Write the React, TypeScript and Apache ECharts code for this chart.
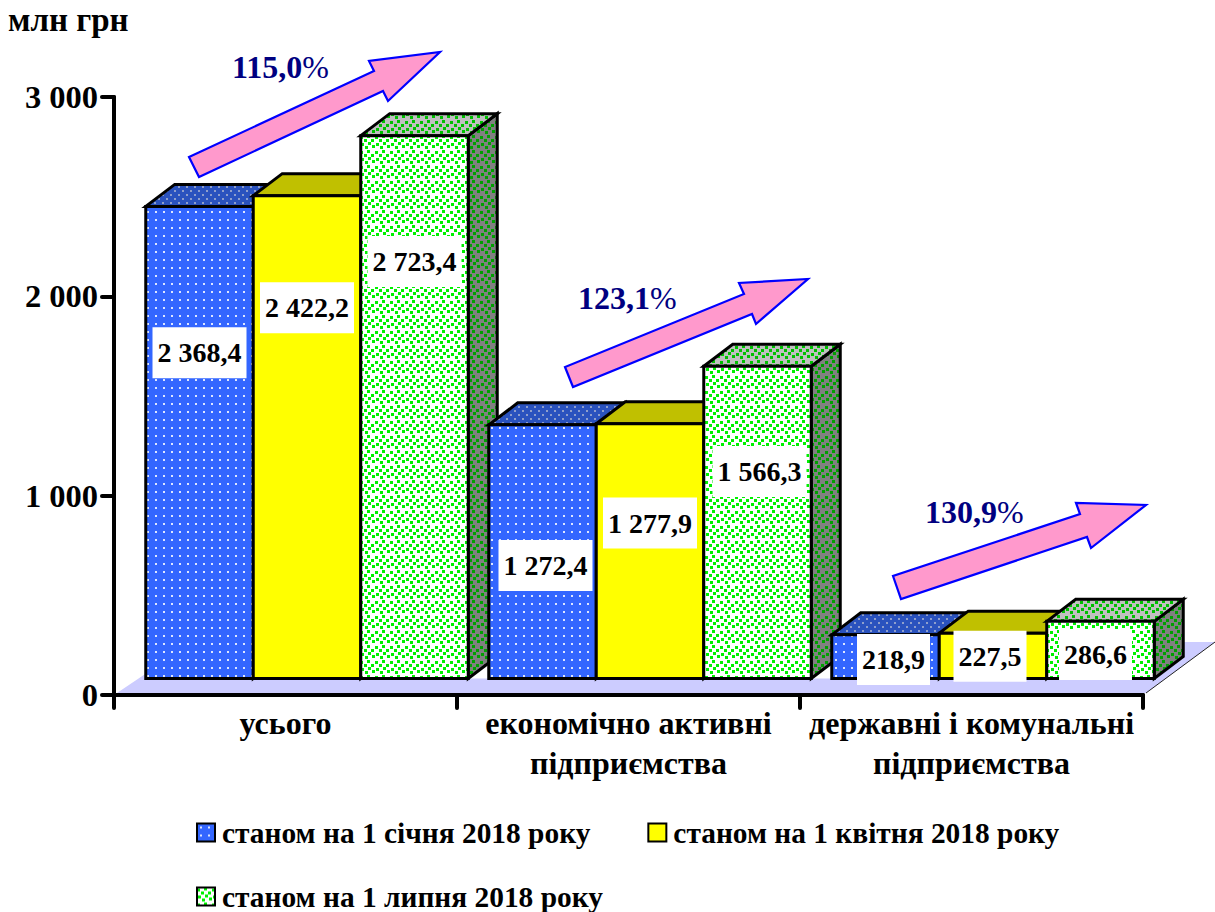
import React, { useEffect, useRef } from "react";
import * as echarts from "echarts";

const categories = ["усього", "економічно активні\nпідприємства", "державні і комунальні\nпідприємства"];
const seriesNames = ["станом на 1 січня 2018 року", "станом на 1 квітня 2018 року", "станом на 1 липня 2018 року"];
const january = [2368.4, 1272.4, 218.9];
const april = [2422.2, 1277.9, 227.5];
const july = [2723.4, 1566.3, 286.6];
const yTicks = [0, 1000, 2000, 3000];
const growthLabels = ["115,0", "123,1", "130,9"];

// layout of the pseudo-3D drawing
const FONT = '"Liberation Serif", serif';
const FLOOR_LIFT = 16.5;
const DEPTH_X = 29;
const DEPTH_Y = 22;
const BAR_W = 107.5;
const GROUP_SHIFT = 21.5;
const labelShare = [
  [0.69, 0.768, 0.768],
  [0.446, 0.61, 0.663],
  [0.436, 0.49, 0.42],
];
const labelShift = [
  [0, 0, 0],
  [3, 0, 2],
  [8, -3, -5],
];
const arrows = [
  [[189, 157], [199, 177], [383, 91], [388, 101], [440, 52], [369, 61], [374, 71]],
  [[565, 367], [573, 387], [752, 314], [756, 324], [808, 279], [739, 283], [744, 294]],
  [[893, 576], [901, 599], [1087, 537], [1091, 548], [1146, 505], [1076, 503], [1080, 514]],
];
const growthPos = [[232, 67], [578, 298], [925, 512]];

function pattern(bg: string, dot: string, size: number, pts: number[][], d: number) {
  const c = document.createElement("canvas");
  c.width = size;
  c.height = size;
  const g = c.getContext("2d")!;
  g.fillStyle = bg;
  g.fillRect(0, 0, size, size);
  g.fillStyle = dot;
  pts.forEach(([x, y]) => g.fillRect(x, y, d, d));
  return { image: c, repeat: "repeat" } as any;
}

const fmt = (v: number) => {
  const [a, b] = v.toFixed(1).split(".");
  return a.replace(/\B(?=(\d{3})+$)/g, " ") + "," + b;
};

export default function App() {
  const ref = useRef<HTMLDivElement>(null);
  useEffect(() => {
    const blueDots = [[3, 3], [11, 3], [7, 7], [15, 7], [3, 11], [11, 11], [7, 15], [15, 15]].map(([x, y]) => [x - 1, y - 1]);
    const greenDots = [[0, 1], [7, 0], [11, 4], [4, 4], [1, 8], [8, 7], [12, 10], [5, 11]];
    const styles = [
      {
        front: pattern("#3366FF", "#DDE6FF", 8, [[3, 3]], 2),
        top: pattern("#2A52BE", "#8F9FCC", 16, blueDots, 2),
        side: "#1F3F99",
      },
      { front: "#FFFF00", top: "#C0C000", side: "#808000" },
      {
        front: pattern("#FFFFFF", "#00F000", 15, greenDots, 3),
        top: pattern("#C0C0C0", "#00C000", 15, greenDots, 3),
        side: pattern("#808080", "#00A000", 15, greenDots, 3),
      },
    ];
    const values = [january, april, july];

    const barSeries = values.map((vals, si) => ({
      type: "custom",
      name: seriesNames[si],
      coordinateSystem: "cartesian2d",
      z: 3,
      itemStyle: { color: styles[si].front, borderColor: "#000", borderWidth: 3 },
      encode: { x: 0, y: 1 },
      data: vals.map((v, i) => [i, v]),
      renderItem: (params: any, api: any) => {
        const ci = api.value(0);
        const val = api.value(1);
        const [cx, y0] = api.coord([ci, 0]);
        const [, yV] = api.coord([ci, val]);
        const base = y0 - FLOOR_LIFT;
        const top = yV - FLOOR_LIFT;
        const left = cx + GROUP_SHIFT - 1.5 * BAR_W + si * BAR_W;
        const right = left + BAR_W;
        const edge = { stroke: "#000", lineWidth: 3, lineJoin: "miter" };
        const order = ci * 10 + si;
        return {
          type: "group",
          children: [
            {
              type: "polygon",
              z2: order,
              shape: { points: [[right, top], [right + DEPTH_X, top - DEPTH_Y], [right + DEPTH_X, base - DEPTH_Y], [right, base]] },
              style: { fill: styles[si].side, ...edge },
            },
            {
              type: "polygon",
              z2: order,
              shape: { points: [[left, top], [left + DEPTH_X, top - DEPTH_Y], [right + DEPTH_X, top - DEPTH_Y], [right, top]] },
              style: { fill: styles[si].top, ...edge },
            },
            {
              type: "rect",
              z2: order,
              shape: { x: left, y: top, width: BAR_W, height: base - top },
              style: { fill: styles[si].front, ...edge },
            },
            {
              type: "text",
              z2: 100 + order,
              x: (left + right) / 2 + labelShift[ci][si],
              y: base - (base - top) * labelShare[ci][si],
              style: {
                text: fmt(val),
                font: `bold 28px ${FONT}`,
                fill: "#000",
                align: "center",
                verticalAlign: "middle",
                backgroundColor: "#fff",
                padding: [12, 5, 11, 5],
              },
            },
          ],
        };
      },
    }));

    const floorSeries = {
      type: "custom",
      name: "floor",
      coordinateSystem: "cartesian2d",
      z: 1,
      silent: true,
      data: [[0, 0]],
      renderItem: (params: any) => {
        const cs = params.coordSys;
        const l = cs.x;
        const r = cs.x + cs.width;
        const b = cs.y + cs.height;
        const fl = b - FLOOR_LIFT;
        const lastRight = r + 12;
        return {
          type: "group",
          children: [
            {
              type: "polygon",
              shape: {
                points: [
                  [l + 3, b - 2],
                  [l + 32, fl - 5],
                  [l + 32, fl],
                  [lastRight, fl],
                  [lastRight + DEPTH_X, fl - DEPTH_Y],
                  [lastRight + DEPTH_X, b - 53],
                  [r + 72, b - 53],
                  [r + 3, b - 2],
                ],
              },
              style: { fill: "#CCCCFF", stroke: "none" },
            },
            {
              type: "line",
              shape: { x1: r + 3, y1: b - 2, x2: r + 72, y2: b - 53 },
              style: { stroke: "#222", lineWidth: 1 },
            },
          ],
        };
      },
    };

    const chart = echarts.init(ref.current!, undefined, { renderer: "svg" });
    chart.setOption({
      animation: false,
      backgroundColor: "#fff",
      textStyle: { fontFamily: FONT },
      title: {
        text: "млн грн",
        left: 8,
        top: 3,
        padding: 0,
        textStyle: { fontFamily: FONT, fontWeight: "bold", fontSize: 33, color: "#000" },
      },
      grid: { left: 114, right: 72, top: 97, bottom: 217, containLabel: false },
      xAxis: {
        type: "category",
        data: categories,
        z: 8,
        axisLine: { onZero: false, lineStyle: { color: "#000", width: 4, cap: "round" } },
        axisTick: { show: true, length: 13, lineStyle: { color: "#000", width: 4, cap: "round" } },
        axisLabel: { color: "#000", fontFamily: FONT, fontWeight: "bold", fontSize: 32, lineHeight: 40, margin: 8, interval: 0 },
      },
      yAxis: {
        type: "value",
        min: 0,
        max: 3000,
        interval: 1000,
        z: 8,
        splitLine: { show: false },
        axisLine: { show: true, lineStyle: { color: "#000", width: 4, cap: "round" } },
        axisTick: { show: true, length: 12, lineStyle: { color: "#000", width: 4, cap: "round" } },
        axisLabel: {
          color: "#000",
          fontFamily: FONT,
          fontWeight: "bold",
          fontSize: 32.5,
          margin: 16,
          formatter: (v: number) => (yTicks.includes(v) ? v.toString().replace(/\B(?=(\d{3})+$)/g, " ") : ""),
        },
      },
      legend: [
        {
          left: 196,
          top: 818,
          padding: 0,
          itemWidth: 18,
          itemHeight: 18,
          itemGap: 57,
          icon: "rect",
          data: [seriesNames[0], seriesNames[1]],
          selectedMode: false,
          textStyle: { color: "#000", fontFamily: FONT, fontWeight: "bold", fontSize: 29.4, padding: [0, 0, 0, 2] },
        },
        {
          left: 196,
          top: 882,
          padding: 0,
          itemWidth: 18,
          itemHeight: 18,
          icon: "rect",
          data: [seriesNames[2]],
          selectedMode: false,
          textStyle: { color: "#000", fontFamily: FONT, fontWeight: "bold", fontSize: 29.4, padding: [0, 0, 0, 2] },
        },
      ],
      graphic: [
        ...arrows.map((pts) => ({
          type: "polygon",
          z: 20,
          shape: { points: pts },
          style: { fill: "#FF99CC", stroke: "#0000FF", lineWidth: 2.2 },
        })),
        ...growthLabels.map((t, i) => ({
          type: "text",
          z: 20,
          x: growthPos[i][0],
          y: growthPos[i][1],
          style: {
            text: `{a|${t}}{b|%}`,
            verticalAlign: "middle",
            rich: {
              a: { font: `bold 32px ${FONT}`, fill: "#000080" },
              b: { font: `32px ${FONT}`, fill: "#000080" },
            },
          },
        })),
      ],
      series: [floorSeries, ...barSeries],
    });
    return () => chart.dispose();
  }, []);
  return <div ref={ref} style={{ position: "fixed", left: 0, top: 0, width: 1215, height: 912 }} />;
}
